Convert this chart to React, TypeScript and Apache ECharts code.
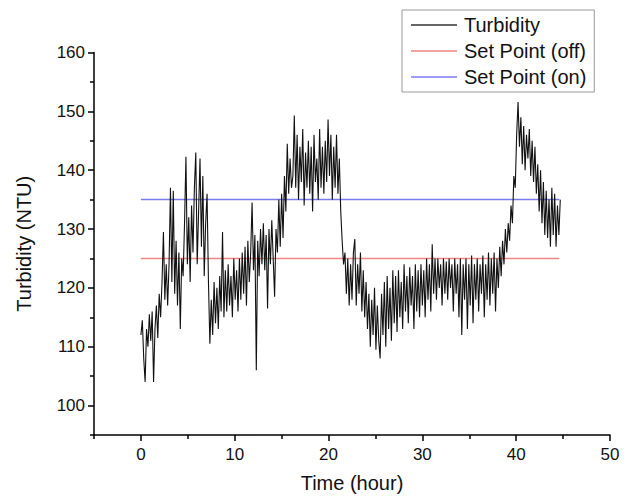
import React, { useEffect, useRef } from "react";
import * as echarts from "echarts";

// sampling interval of the logged turbidity (hours)
const SAMPLE_STEP = 0.15;

// turbidity readings (NTU), one every SAMPLE_STEP hours from t = 0
const turbidity: number[] = [
  112, 114.5, 108, 104, 113, 110, 115.5, 111, 116, 104,
  113, 117, 111.5, 119, 115, 121, 129.5, 118, 124, 117,
  124, 137, 121, 136.5, 119, 128, 117, 126, 113, 125,
  122, 131, 142.3, 124, 132, 121, 134, 126, 137, 143,
  124, 133, 142, 127, 139, 122, 131, 136, 121, 110.5,
  118, 112, 121, 114, 120, 113, 122, 116, 129.5, 115,
  123, 116, 124, 117, 122, 115, 125, 118, 123, 116,
  125, 118, 126, 119, 127, 117, 128, 121, 126, 134.5,
  123, 129, 106, 128, 122, 130, 124, 131, 123, 129,
  116.5, 130, 124, 131.5, 125, 118.5, 130, 126, 135, 127,
  136, 128.5, 139, 133, 144.5, 136, 142, 137, 139, 149.3,
  137, 146, 135, 144, 138, 147, 134, 143, 137, 145,
  136, 144, 133, 146, 138, 142, 135, 147, 137, 144,
  136, 145, 138, 148.6, 139, 146, 135, 144, 137, 146,
  136, 142, 133, 128, 124, 126, 119, 125, 117, 124,
  118, 126, 128.3, 117, 124, 119, 126, 116, 123, 115,
  121, 113, 119, 110, 118, 112, 120, 109.5, 117, 111,
  108, 119, 112, 121, 110, 122, 113, 120, 111, 123,
  114, 122, 112.5, 123, 115, 121, 113, 124, 116, 122,
  114, 123.5, 117, 122, 113, 124, 116, 123, 115, 124,
  117, 123, 115, 125, 118, 124, 116, 127.4, 119, 125,
  118, 125, 120, 124, 117, 125, 119, 124.5, 118, 125,
  120, 124, 116, 125, 119, 124, 115, 125, 112, 124,
  118, 125, 113, 124, 117, 125.5, 114, 124, 118, 125,
  116, 124, 119, 125.5, 115, 124, 118, 126, 117, 125,
  119, 126, 116, 125, 120, 127, 122, 128, 124, 130,
  126, 131, 128, 134, 131, 139, 137, 146, 151.6, 144,
  149, 141, 147.5, 140, 146, 142, 147, 139, 145, 138,
  144, 136, 141, 133, 140, 131, 138, 129, 136.5, 128.5,
  135, 127, 137, 129, 136, 127, 134, 129, 135,
];

const setPointOff = 125;
const setPointOn = 135;
const setPointSpan: [number, number] = [0, 44.6];

const xMajorTicks = [0, 10, 20, 30, 40, 50];
const xMinorTicks = [-5, 5, 15, 25, 35, 45];
const yMajorTicks = [100, 110, 120, 130, 140, 150, 160];
const yMinorTicks = [95, 105, 115, 125, 135, 145, 155];

const FONT = "'Liberation Sans', Arial, sans-serif";

export default function App() {
  const ref = useRef<HTMLDivElement>(null);

  useEffect(() => {
    if (!ref.current) return;
    const chart = echarts.init(ref.current, undefined, { renderer: "svg" });

    const turbData = turbidity.map((v, i) => [+(i * SAMPLE_STEP).toFixed(3), v]);
    const offData = setPointSpan.map((t) => [t, setPointOff]);
    const onData = setPointSpan.map((t) => [t, setPointOn]);

    const axisLine = { show: true, onZero: false, lineStyle: { color: "#000", width: 1.5 } };
    const tickStyle = { color: "#000", width: 1.5 };

    chart.setOption({
      animation: false,
      backgroundColor: "#fff",
      textStyle: { fontFamily: FONT },
      grid: { left: 94, right: 20, top: 52.5, bottom: 61, containLabel: false },
      legend: {
        orient: "vertical",
        left: 402,
        top: 10,
        padding: [5, 8, 5, 9],
        itemGap: 6,
        itemWidth: 46,
        itemHeight: 1.5,
        icon: "rect",
        borderColor: "#999",
        borderWidth: 1,
        backgroundColor: "#fff",
        textStyle: { fontSize: 20, color: "#111", fontFamily: FONT, padding: [0, 0, 0, 2] },
        data: ["Turbidity", "Set Point (off)", "Set Point (on)"],
      },
      xAxis: [
        {
          type: "value",
          min: -5,
          max: 50,
          name: "Time (hour)",
          nameLocation: "middle",
          nameGap: 38,
          nameTextStyle: { fontSize: 20, color: "#111", fontFamily: FONT },
          axisLine,
          axisTick: { show: true, length: 6, customValues: xMajorTicks, lineStyle: tickStyle },
          axisLabel: { show: true, customValues: xMajorTicks, margin: 11, fontSize: 17, color: "#111", fontFamily: FONT },
          splitLine: { show: false },
        },
        {
          type: "value",
          min: -5,
          max: 50,
          position: "bottom",
          axisLine: { show: false, onZero: false },
          axisTick: { show: true, length: 4, customValues: xMinorTicks, lineStyle: tickStyle },
          axisLabel: { show: false },
          splitLine: { show: false },
        },
      ],
      yAxis: [
        {
          type: "value",
          min: 95,
          max: 160,
          name: "Turbidity (NTU)",
          nameLocation: "middle",
          nameGap: 60,
          nameTextStyle: { fontSize: 20, color: "#111", fontFamily: FONT },
          axisLine,
          axisTick: { show: true, length: 6, customValues: yMajorTicks, lineStyle: tickStyle },
          axisLabel: { show: true, customValues: yMajorTicks, margin: 9, fontSize: 17, color: "#111", fontFamily: FONT },
          splitLine: { show: false },
        },
        {
          type: "value",
          min: 95,
          max: 160,
          position: "left",
          axisLine: { show: false, onZero: false },
          axisTick: { show: true, length: 4, customValues: yMinorTicks, lineStyle: tickStyle },
          axisLabel: { show: false },
          splitLine: { show: false },
        },
      ],
      series: [
        {
          name: "Turbidity",
          type: "line",
          data: turbData,
          symbol: "none",
          color: "#333",
          lineStyle: { color: "#111", width: 1.1 },
          z: 3,
        },
        {
          name: "Set Point (off)",
          type: "line",
          data: offData,
          symbol: "none",
          color: "#f08585",
          lineStyle: { color: "#f08585", width: 1.5 },
          z: 2,
        },
        {
          name: "Set Point (on)",
          type: "line",
          data: onData,
          symbol: "none",
          color: "#7b7bf0",
          lineStyle: { color: "#7b7bf0", width: 1.5 },
          z: 2,
        },
      ],
    });

    return () => chart.dispose();
  }, []);

  return (
    <div
      ref={ref}
      style={{ position: "fixed", left: 0, top: 0, width: 630, height: 498, background: "#fff" }}
    />
  );
}
